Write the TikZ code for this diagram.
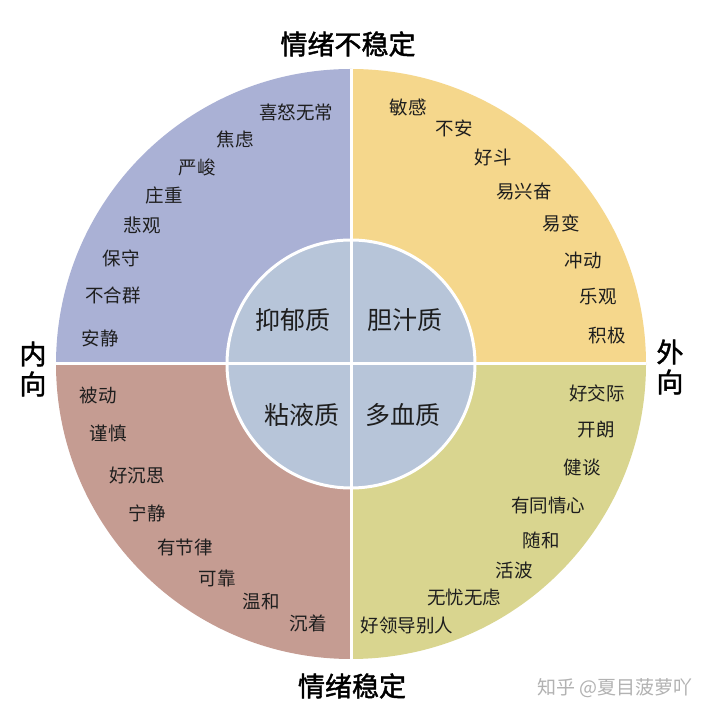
\documentclass[tikz,border=0pt]{standalone}
\usepackage{fontspec}
\usepackage{xcolor}
\usetikzlibrary{calc}
\newfontfamily\cjk{Noto Sans CJK SC}
\newfontfamily\cjkbold[FakeBold=1.6]{Noto Sans CJK SC}
\definecolor{melanBlue}{RGB}{170,177,213}
\definecolor{cholerYellow}{RGB}{245,215,140}
\definecolor{phlegmRose}{RGB}{197,156,146}
\definecolor{sanguOlive}{RGB}{217,213,143}
\definecolor{coreBlue}{RGB}{183,197,217}
\definecolor{inkDark}{RGB}{30,30,30}
\tikzset{
  trait/.style={inner sep=0pt,font=\cjk\fontsize{18.5}{20}\selectfont,text=inkDark},
  temper/.style={inner sep=0pt,font=\cjk\fontsize{25}{27}\selectfont,text=inkDark},
  axislabel/.style={inner sep=0pt,align=center,font=\cjkbold\fontsize{27}{30}\selectfont,text=black}
}

\begin{document}
\begin{tikzpicture}[x=1pt,y=1pt]
\useasboundingbox (0,0) rectangle (720,720);
\fill[white] (0,0) rectangle (720,720);
\coordinate (C) at (351,356);

% four outer quarters
\fill[melanBlue] (C) -- ++(-295,0) arc[start angle=180,end angle=90,radius=295] -- cycle;
\fill[cholerYellow] (C) -- ++(0,295) arc[start angle=90,end angle=0,radius=295] -- cycle;
\fill[phlegmRose] (C) -- ++(-295,0) arc[start angle=180,end angle=270,radius=295] -- cycle;
\fill[sanguOlive] (C) -- ++(0,-295) arc[start angle=270,end angle=360,radius=295] -- cycle;

% inner disc and white separators
\fill[coreBlue] (C) circle[radius=124];
\draw[white,line width=3pt] (C) circle[radius=124];
\draw[white,line width=3pt] ($(C)+(0,295)$) -- ($(C)+(0,-295)$);
\draw[white,line width=3pt] ($(C)+(-295,0)$) -- ($(C)+(295,0)$);

% temperaments
\node[temper] (melan) at (293,400) {抑郁质};
\node[temper] (choler) at (405,400) {胆汁质};
\node[temper] (phlegm) at (302,305) {粘液质};
\node[temper] (sangu) at (403,305) {多血质};

% melancholic traits
\node[trait] (m1) at (296,608) {喜怒无常};
\node[trait] (m2) at (235,581) {焦虑};
\node[trait] (m3) at (197,553) {严峻};
\node[trait] (m4) at (164,525) {庄重};
\node[trait] (m5) at (142,495) {悲观};
\node[trait] (m6) at (121,462) {保守};
\node[trait] (m7) at (113,425) {不合群};
\node[trait] (m8) at (100,382) {安静};

% choleric traits
\node[trait] (c1) at (408,613) {敏感};
\node[trait] (c2) at (454,592) {不安};
\node[trait] (c3) at (493,563) {好斗};
\node[trait] (c4) at (524,528) {易兴奋};
\node[trait] (c5) at (561,497) {易变};
\node[trait] (c6) at (583,460) {冲动};
\node[trait] (c7) at (598,423) {乐观};
\node[trait] (c8) at (607,385) {积极};

% phlegmatic traits
\node[trait] (p1) at (98,325) {被动};
\node[trait] (p2) at (108,287) {谨慎};
\node[trait] (p3) at (137,245) {好沉思};
\node[trait] (p4) at (147,207) {宁静};
\node[trait] (p5) at (185,173) {有节律};
\node[trait] (p6) at (217,142) {可靠};
\node[trait] (p7) at (261,118) {温和};
\node[trait] (p8) at (308,97) {沉着};

% sanguine traits
\node[trait] (s1) at (597,327) {好交际};
\node[trait] (s2) at (596,290) {开朗};
\node[trait] (s3) at (582,253) {健谈};
\node[trait] (s4) at (548,215) {有同情心};
\node[trait] (s5) at (541,180) {随和};
\node[trait] (s6) at (514,150) {活波};
\node[trait] (s7) at (464,123) {无忧无虑};
\node[trait] (s8) at (407,95) {好领导别人};

% axes
\node[axislabel] (unstable) at (348,676) {情绪不稳定};
\node[axislabel] (stable) at (352,34) {情绪稳定};
\node[axislabel] (intro) at (33,351) {内\\向};
\node[axislabel] (extra) at (670,353) {外\\向};

\node[inner sep=0pt,font=\cjk\fontsize{19}{21}\selectfont,text=black!30] (mark) at (615,32) {知乎 @夏目菠萝吖};
\end{tikzpicture}
\end{document}
